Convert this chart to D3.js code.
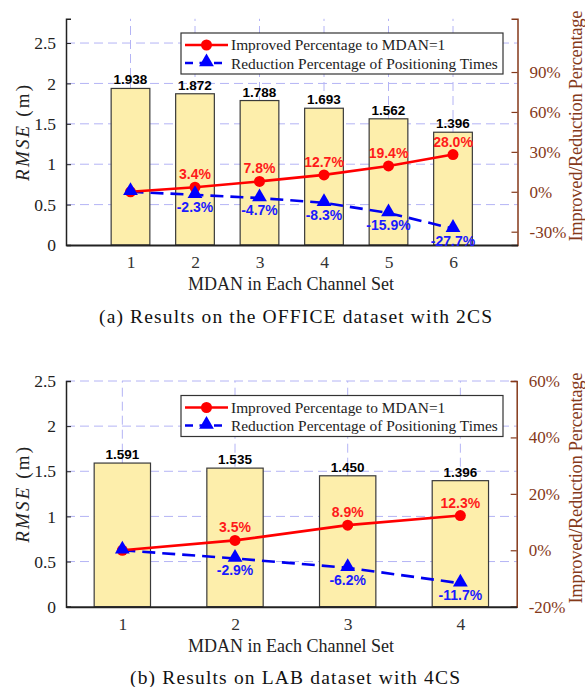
<!DOCTYPE html>
<html lang="en">
<head>
<meta charset="UTF-8">
<title>MDAN results</title>
<script src="https://d3js.org/d3.v7.min.js"></script>
<style>
  body { margin: 0; background: #fff; }
  svg { display: block; }
  .serif { font-family: "Liberation Serif", "Times New Roman", serif; }
  .sans { font-family: "Liberation Sans", Arial, sans-serif; font-weight: bold; }
</style>
</head>
<body>
<svg width="585" height="687"></svg>
<script>
// ---- data: panel (a) OFFICE / 2CS ----
const mdanA = [1, 2, 3, 4, 5, 6];
const rmseA = [1.938, 1.872, 1.788, 1.693, 1.562, 1.396];
const improvedA = [0, 3.4, 7.8, 12.7, 19.4, 28.0];
const reductionA = [0, -2.3, -4.7, -8.3, -15.9, -27.7];
const improvedLabelsA = ["", "3.4%", "7.8%", "12.7%", "19.4%", "28.0%"];
const reductionLabelsA = ["", "-2.3%", "-4.7%", "-8.3%", "-15.9%", "-27.7%"];
const leftTicksA = [0, 0.5, 1, 1.5, 2, 2.5];
const rightTicksA = [-30, 0, 30, 60, 90];

// ---- data: panel (b) LAB / 4CS ----
const mdanB = [1, 2, 3, 4];
const rmseB = [1.591, 1.535, 1.450, 1.396];
const improvedB = [0, 3.5, 8.9, 12.3];
const reductionB = [0, -2.9, -6.2, -11.7];
const improvedLabelsB = ["", "3.5%", "8.9%", "12.3%"];
const reductionLabelsB = ["", "-2.9%", "-6.2%", "-11.7%"];
const leftTicksB = [0, 0.5, 1, 1.5, 2, 2.5];
const rightTicksB = [-20, 0, 20, 40, 60];

const legendLabels = ["Improved Percentage to MDAN=1", "Reduction Percentage of Positioning Times"];

const svg = d3.select("svg");
const brown = "#85391a";
const gridColor = "#b4b4f5";

function drawPanel(p) {
  const g = svg.append("g");
  const x = d3.scaleLinear().domain(p.xDomain).range([p.left, p.right]);
  const y = d3.scaleLinear().domain(p.yDomain).range([p.bottom, p.top]);
  const y2 = d3.scaleLinear().domain(p.y2Domain).range([p.bottom, p.top]);

  // grid
  g.append("g").selectAll("line").data(p.leftTicks.filter(d => d > 0)).join("line")
    .attr("x1", p.left).attr("x2", p.right)
    .attr("y1", d => y(d)).attr("y2", d => y(d))
    .attr("stroke", gridColor).attr("stroke-width", 1).attr("stroke-dasharray", "9,5");
  g.append("g").selectAll("line").data(p.mdan).join("line")
    .attr("x1", d => x(d)).attr("x2", d => x(d))
    .attr("y1", p.bottom).attr("y2", p.top)
    .attr("stroke", gridColor).attr("stroke-width", 1).attr("stroke-dasharray", "9,5");

  // bars
  const bw = x(p.barWidth) - x(0);
  g.append("g").selectAll("rect").data(p.rmse).join("rect")
    .attr("x", (d, i) => x(p.mdan[i]) - bw / 2)
    .attr("y", d => y(d))
    .attr("width", bw)
    .attr("height", d => y(0) - y(d))
    .attr("fill", "#fdeeab").attr("stroke", "#3a3a3a").attr("stroke-width", 1.2);
  g.append("g").selectAll("text").data(p.rmse).join("text")
    .attr("class", "sans")
    .attr("x", (d, i) => x(p.mdan[i]))
    .attr("y", d => y(d) - 4)
    .attr("text-anchor", "middle").attr("font-size", 13.5)
    .text(d => d.toFixed(3));

  // axes
  const leftAxis = g.append("g").attr("transform", `translate(${p.left},0)`)
    .call(d3.axisLeft(y).tickValues(p.leftTicks).tickSize(-5).tickPadding(10).tickFormat(d3.format("")));
  leftAxis.select(".domain").attr("stroke", "#222").attr("stroke-width", 1.5);
  leftAxis.selectAll(".tick line").attr("stroke", "#222");
  leftAxis.selectAll("text").attr("class", "serif").attr("font-size", 17.5).attr("fill", "#222");

  const rightAxis = g.append("g").attr("transform", `translate(${p.right},0)`)
    .call(d3.axisRight(y2).tickValues(p.rightTicks).tickSize(-6).tickPadding(12).tickFormat(d => d + "%"));
  rightAxis.select(".domain").attr("stroke", brown).attr("stroke-width", 1.5);
  rightAxis.selectAll(".tick line").attr("stroke", brown).attr("stroke-width", 1.2);
  rightAxis.selectAll("text").attr("class", "serif").attr("font-size", 17).attr("fill", brown);

  const bottomAxis = g.append("g").attr("transform", `translate(0,${p.bottom})`)
    .call(d3.axisBottom(x).tickValues(p.mdan).tickSize(0).tickPadding(11).tickFormat(d3.format("d")));
  bottomAxis.select(".domain").attr("stroke", "#222").attr("stroke-width", 2);
  bottomAxis.selectAll("text").attr("class", "serif").attr("font-size", 17.5).attr("fill", "#333");

  // lines
  const lineImp = d3.line().x((d, i) => x(p.mdan[i])).y(d => y2(d));
  g.append("path").datum(p.reduction).attr("d", lineImp)
    .attr("fill", "none").attr("stroke", "#0000f0").attr("stroke-width", 2.6).attr("stroke-dasharray", "13,7");
  g.append("path").datum(p.improved).attr("d", lineImp)
    .attr("fill", "none").attr("stroke", "#ff0000").attr("stroke-width", 2.6);

  const tri = d3.symbol().type(d3.symbolTriangle).size(95);
  g.append("g").selectAll("circle").data(p.improved).join("circle")
    .attr("cx", (d, i) => x(p.mdan[i])).attr("cy", d => y2(d)).attr("r", 5.5).attr("fill", "#ff0000");
  g.append("g").selectAll("path").data(p.reduction).join("path")
    .attr("d", tri)
    .attr("transform", (d, i) => `translate(${x(p.mdan[i])},${y2(d) - 1})`)
    .attr("fill", "#0000ff");

  g.append("g").selectAll("text").data(p.improvedLabels).join("text")
    .attr("class", "sans")
    .attr("x", (d, i) => x(p.mdan[i])).attr("y", (d, i) => y2(p.improved[i]) - 8)
    .attr("text-anchor", "middle").attr("font-size", 14).attr("fill", "#ff1a1a")
    .text(d => d);
  g.append("g").selectAll("text").data(p.reductionLabels).join("text")
    .attr("class", "sans")
    .attr("x", (d, i) => x(p.mdan[i])).attr("y", (d, i) => y2(p.reduction[i]) + 17)
    .attr("text-anchor", "middle").attr("font-size", 14).attr("fill", "#1a1aff")
    .text(d => d);

  // legend
  const lg = g.append("g").attr("transform", `translate(${p.legend[0]},${p.legend[1]})`);
  lg.append("rect").attr("width", 322).attr("height", 41)
    .attr("fill", "#fff").attr("stroke", "#333").attr("stroke-width", 1.2);
  lg.append("line").attr("x1", 4).attr("x2", 47).attr("y1", 12).attr("y2", 12)
    .attr("stroke", "#ff0000").attr("stroke-width", 2.6);
  lg.append("circle").attr("cx", 25.5).attr("cy", 12).attr("r", 5.5).attr("fill", "#ff0000");
  lg.append("line").attr("x1", 4).attr("x2", 47).attr("y1", 30).attr("y2", 30)
    .attr("stroke", "#0000f0").attr("stroke-width", 2.6).attr("stroke-dasharray", "8,6.5");
  lg.append("path").attr("d", tri).attr("transform", "translate(25.5,29)").attr("fill", "#0000ff");
  lg.selectAll("text.lab").data(legendLabels).join("text")
    .attr("class", "serif lab").attr("x", 50).attr("y", (d, i) => 17 + i * 18.5)
    .attr("font-size", 15.4).attr("fill", "#222").text(d => d);

  // titles
  const yLab = g.append("text").attr("class", "serif").attr("font-size", 19).attr("fill", "#222")
    .attr("text-anchor", "middle")
    .attr("textLength", 96).attr("lengthAdjust", "spacing")
    .attr("transform", `translate(29,${(p.top + p.bottom) / 2 + 1}) rotate(-90)`);
  yLab.append("tspan").attr("font-style", "italic").text("RMSE");
  yLab.append("tspan").text(" (m)");

  g.append("text").attr("class", "serif").attr("font-size", 18.6).attr("fill", brown)
    .attr("text-anchor", "middle")
    .attr("textLength", 231).attr("lengthAdjust", "spacing")
    .attr("transform", `translate(582,${p.rightLabelY}) rotate(-90)`)
    .text("Improved/Reduction Percentage");

  g.append("text").attr("class", "serif").attr("font-size", 18).attr("fill", "#222")
    .attr("text-anchor", "middle").attr("x", 291).attr("y", p.bottom + 45)
    .text("MDAN in Each Channel Set");

  g.append("text").attr("class", "serif").attr("font-size", 19.5).attr("fill", "#111")
    .attr("x", p.caption[0]).attr("y", p.caption[1])
    .attr("textLength", p.caption[2]).attr("lengthAdjust", "spacing")
    .text(p.captionText);
}

drawPanel({
  mdan: mdanA, rmse: rmseA, improved: improvedA, reduction: reductionA,
  improvedLabels: improvedLabelsA, reductionLabels: reductionLabelsA,
  leftTicks: leftTicksA, rightTicks: rightTicksA,
  xDomain: [0, 7], yDomain: [0, 2.8], y2Domain: [-40, 130], barWidth: 0.6,
  left: 66, right: 517.5, top: 18.8, bottom: 245,
  legend: [181, 33], rightLabelY: 126,
  caption: [99, 323, 393], captionText: "(a) Results on the OFFICE dataset with 2CS"
});

drawPanel({
  mdan: mdanB, rmse: rmseB, improved: improvedB, reduction: reductionB,
  improvedLabels: improvedLabelsB, reductionLabels: reductionLabelsB,
  leftTicks: leftTicksB, rightTicks: rightTicksB,
  xDomain: [0.5, 4.5], yDomain: [0, 2.5], y2Domain: [-20, 60], barWidth: 0.5,
  left: 66, right: 516.7, top: 381, bottom: 606.7,
  legend: [181, 395.5], rightLabelY: 488,
  caption: [130, 684, 330], captionText: "(b) Results on LAB dataset with 4CS"
});
</script>
</body>
</html>
